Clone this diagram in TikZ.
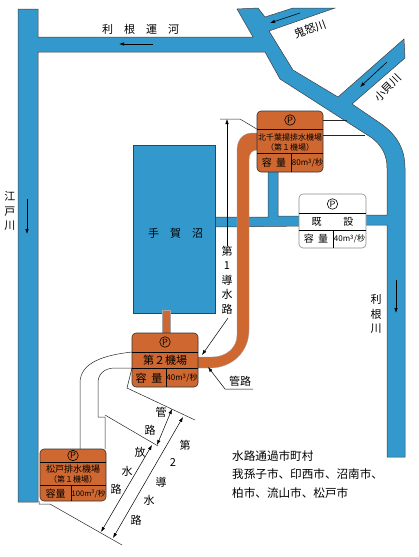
\documentclass[tikz,border=0pt]{standalone}
\usepackage{fontspec}
\usepackage{tikz}
\usetikzlibrary{arrows.meta}
\newfontfamily\cjk{Noto Sans CJK JP}
\definecolor{riverblue}{HTML}{3399CC}
\definecolor{pipeorange}{HTML}{CF6730}

\begin{document}
\begin{tikzpicture}[
    x=1pt,
    y=-1pt,
    water/.style={
        fill=riverblue,
        draw=black!75,
        line width=0.5pt
    },
    pipe/.style={
        fill=pipeorange,
        draw=black!35,
        line width=0.3pt
    },
    pumpbox/.style={
        draw=black!80,
        fill=pipeorange,
        rounded corners=4pt,
        line width=0.6pt,
        inner sep=0pt
    },
    oldbox/.style={
        pumpbox,
        draw=black!45,
        fill=white
    },
    divider/.style={
        line width=0.6pt
    },
    pmark/.style={
        draw,
        circle,
        line width=0.6pt,
        inner sep=0pt,
        minimum size=10.5pt,
        font=\sffamily\fontsize{9}{9}\selectfont
    },
    label/.style={
        inner sep=0pt,
        font=\cjk\fontsize{11}{14.6}\selectfont,
        align=center
    },
    small/.style={
        inner sep=0pt,
        font=\cjk\fontsize{8}{10}\selectfont,
        align=center
    },
    tiny/.style={
        inner sep=0pt,
        font=\cjk\fontsize{8}{9}\selectfont
    },
    note/.style={
        inner sep=0pt,
        anchor=west,
        font=\cjk\fontsize{11.6}{14}\selectfont
    },
    flow/.style={
        -{Latex[length=5pt,width=3.5pt]},
        line width=0.6pt
    },
    dimline/.style={
        {Latex[length=5pt,width=3.5pt]}-{Latex[length=5pt,width=3.5pt]},
        line width=0.5pt
    },
    thinline/.style={
        line width=0.5pt,
        black!85
    }
]

\useasboundingbox (0,0) rectangle (419,557);

\draw[water] (18,9) -- (38,9) -- (38,37) -- (253,37) -- (237,9) -- (258,8) -- (265,17) -- (293,8) -- (335,8) -- (269,31) -- (293,70) -- (338,97) -- (404,39) -- (405,58) -- (352,104) -- (380,123) .. controls (396,134) and (405,148) .. (405,168) -- (405,457) -- (387,457) -- (387,225) -- (360,225) -- (360,215) -- (387,215) -- (387,168) .. controls (387,155) and (382,146) .. (372,138) -- (280,79) -- (265,52) -- (38,52) -- (38,502) -- (18,502) -- cycle;

\draw[water] (215,217) -- (268,217) -- (268,165) -- (278,165) -- (278,216) -- (310,216) -- (310,226) -- (215,227) -- cycle;

\draw[water] (133,145) rectangle (215,313);

\draw[pipe] (162,310) rectangle (170,336);

\draw[pipe] (258,133) -- (252,133) .. controls (243,133) and (237,140) .. (237,150) -- (237,335) .. controls (237,348) and (226,357) .. (212,357) -- (195,357) -- (195,368) -- (210,368) .. controls (232,368) and (249,352) .. (249,330) -- (249,160) .. controls (249,153) and (252,150) .. (258,150) -- cycle;

\node[pumpbox, minimum width=66pt, minimum height=61pt] (northbox) at (290,141.5) {};
\node[oldbox, minimum width=67pt, minimum height=54pt] (oldplant) at (332.5,221) {};
\node[pumpbox, minimum width=66pt, minimum height=54pt] (secondbox) at (165,360) {};
\node[pumpbox, minimum width=66pt, minimum height=52pt] (matsudobox) at (73,475) {};

\coordinate (northa) at (257,129);
\coordinate (northb) at (323,129);
\coordinate (northc) at (257,153);
\coordinate (northd) at (323,153);
\coordinate (northe) at (291,153);
\coordinate (oldc) at (299,213);
\coordinate (oldd) at (366,213);
\coordinate (olde) at (299,230);
\coordinate (oldf) at (366,230);
\coordinate (oldg) at (333,230);
\coordinate (seca) at (132,352);
\coordinate (secb) at (198,352);
\coordinate (secc) at (132,368);
\coordinate (secd) at (198,368);
\coordinate (sece) at (166,368);
\coordinate (mata) at (40,462);
\coordinate (matb) at (106,462);
\coordinate (matc) at (40,485);
\coordinate (matd) at (106,485);
\coordinate (mate) at (71,485);

\draw[divider] (northa) -- (northb);
\draw[divider] (northc) -- (northd);
\draw[divider] (northe) -- (northe |- northbox.south);
\draw[divider] (oldc) -- (oldd);
\draw[divider] (olde) -- (oldf);
\draw[divider] (oldg) -- (oldg |- oldplant.south);
\draw[divider] (seca) -- (secb);
\draw[divider] (secc) -- (secd);
\draw[divider] (sece) -- (sece |- secondbox.south);
\draw[divider] (mata) -- (matb);
\draw[divider] (matc) -- (matd);
\draw[divider] (mate) -- (mate |- matsudobox.south);

\node[pmark] (northp) at (290,120) {P};
\node[small] (northname) at (290,137) {北千葉揚排水機場};
\node[small] (northno) at (290,147) {（第１機場）};
\node[label, font=\cjk\fontsize{10}{10}\selectfont] (northcap) at (274,163) {容\ \ 量};
\node[tiny] (northflow) at (307.5,163) {80m\textsuperscript{3}/秒};

\node[pmark] (oldp) at (332.5,204) {P};
\node[label, font=\cjk\fontsize{10}{10}\selectfont] (oldname) at (332.5,222) {既\hspace{2.2em}設};
\node[label, font=\cjk\fontsize{10}{10}\selectfont] (oldcap) at (316,239) {容\ \ 量};
\node[tiny] (oldflow) at (349.5,239) {40m\textsuperscript{3}/秒};

\node[pmark] (secondp) at (165,342) {P};
\node[label] (secondname) at (165,360.5) {第２機場};
\node[label] (secondcap) at (149,378) {容\ \ 量};
\node[tiny] (secondflow) at (182,378) {40m\textsuperscript{3}/秒};

\node[pmark] (matp) at (73,455.5) {P};
\node[small, font=\cjk\fontsize{9}{10}\selectfont] (matname) at (73,469) {松戸排水機場};
\node[small] (matno) at (73,479) {（第１機場）};
\node[label, font=\cjk\fontsize{10}{10}\selectfont] (matcap) at (55.5,493.5) {容量};
\node[tiny, font=\cjk\fontsize{7.6}{9}\selectfont] (matflow) at (88.5,493.5) {100m\textsuperscript{3}/秒};

\node[label] (lakename) at (175.5,233) {手\hspace{1em}賀\hspace{1em}沼};
\node[label] (canalname) at (140.5,29) {利\hspace{1em}根\hspace{1em}運\hspace{1em}河};
\node[label] (edoname) at (10,211) {江\\戸\\川};
\node[label] (tonename) at (376,314) {利\\根\\川};
\node[label, rotate=20] (kinuname) at (310,29) {鬼怒川};
\node[label, rotate=45] (kokainame) at (388,88) {小貝川};
\node[label] (pipename) at (240,381) {管路};
\node[label] (firstname) at (227,280) {第\\1\\導\\水\\路};

\coordinate (canalfrom) at (153,44);
\coordinate (canalto) at (119,44);
\coordinate (edofrom) at (27,199);
\coordinate (edoto) at (27,234);
\coordinate (tonefrom) at (396,280);
\coordinate (toneto) at (396,313);
\coordinate (kinufrom) at (300,13);
\coordinate (kinuto) at (270,23);
\coordinate (kokaifrom) at (387,62);
\coordinate (kokaito) at (360,87);

\draw[flow] (canalfrom) -- (canalto);
\draw[flow] (edofrom) -- (edoto);
\draw[flow] (tonefrom) -- (toneto);
\draw[flow] (kinufrom) -- (kinuto);
\draw[flow] (kokaifrom) -- (kokaito);

\coordinate (firsttop) at (227,119);
\coordinate (firsttick) at (220,119);
\coordinate (firstbend) at (240,119);
\coordinate (firstfoot) at (228,318);
\coordinate (firsttip) at (202,355);

\draw[thinline] (firsttick) -- (firstbend) -- (northbox.west |- northa);
\draw[flow, line width=0.5pt] (firstname.north) -- (firsttop);
\draw[flow, line width=0.5pt] (firstfoot) -- (firsttip);

\coordinate (northup) at (347,120);
\coordinate (northlow) at (365,135);
\draw[thinline] (northbox.east |- northup) -- (northup);
\draw[thinline] (northbox.east |- northlow) -- (northlow);

\coordinate (pipetip) at (208,367);
\coordinate (pipebend) at (225,389);
\coordinate (pipeend) at (253,389);
\draw[flow, line width=0.5pt] (pipeend) -- (pipebend) -- (pipetip);

\coordinate (outerbend) at (80,383);
\coordinate (innerbend) at (98,383);
\coordinate (innerfoot) at (98,417);
\coordinate (innerstep) at (105,417);
\coordinate (innertop) at (80,449);
\coordinate (innerdown) at (105,449);

\draw[thinline] (seca) .. controls (105,355) and (80,362) .. (outerbend) -- (innertop);
\draw[thinline] (secc) -- (113,368) .. controls (104,369) and (98,374) .. (innerbend) -- (innerfoot) -- (innerstep) -- (innerdown);

\coordinate (extaa) at (127,388);
\coordinate (extab) at (195,420);
\coordinate (extba) at (105,415);
\coordinate (extbb) at (158,446);
\coordinate (extca) at (39,501);
\coordinate (extcb) at (39,504);
\coordinate (extcc) at (50,504);
\coordinate (extcd) at (122,545);

\draw[thinline] (secc) -- (extaa) -- (extab);
\draw[thinline] (extba) -- (extbb);
\draw[thinline] (extca) -- (extcb) -- (extcc) -- (extcd);

\coordinate (dimaa) at (113,538);
\coordinate (dimab) at (183,417);
\coordinate (dimba) at (157,445);
\coordinate (dimbb) at (172,409);
\coordinate (dimca) at (101,532);
\coordinate (dimcb) at (152,445);

\draw[dimline] (dimaa) -- (dimab);
\draw[dimline] (dimba) -- (dimbb);
\draw[dimline] (dimca) -- (dimcb);

\foreach \ch/\px/\py [count=\n] in {管/161/412, 路/150/430, 放/140/452, 水/127/471, 路/116/489, 第/185/445, 2/173/463, 導/161/482, 水/149/500, 路/136/520}
    \node[label] (drain\n) at (\px,\py) {\ch};

\node[note] (townhead) at (232,456) {水路通過市町村};
\node[note] (townone) at (232,474) {我孫子市、印西市、沼南市、};
\node[note] (towntwo) at (232,493) {柏市、流山市、松戸市};

\end{tikzpicture}
\end{document}
